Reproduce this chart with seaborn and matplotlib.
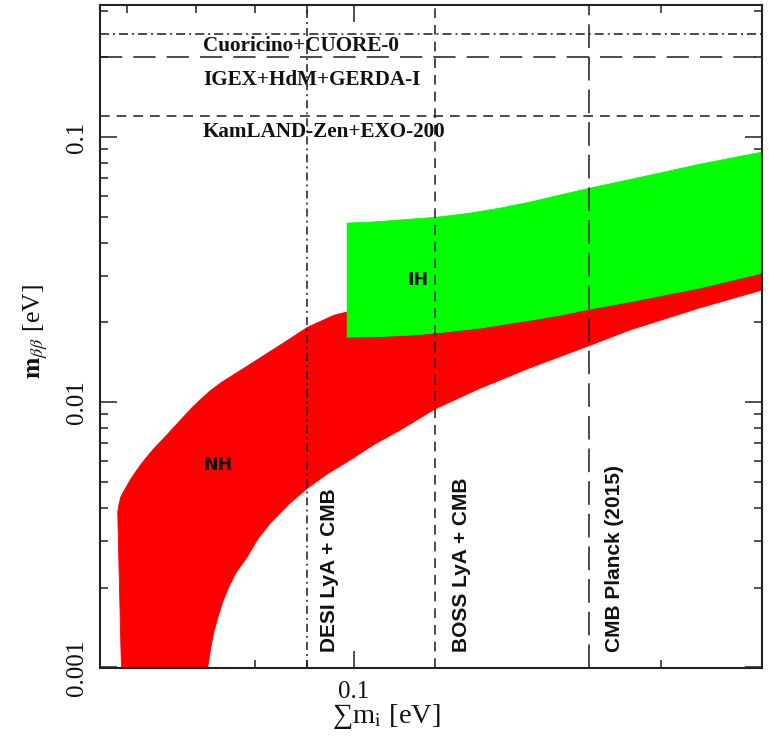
import matplotlib
matplotlib.use("Agg")
import numpy as np
import matplotlib.pyplot as plt
import matplotlib.ticker as mticker
import matplotlib.transforms as mtrans
import seaborn as sns

# ---- data -----------------------------------------------------------------
# Normal hierarchy band (red): left/upper edge, then lower edge
nh_upper_sum = [0.0592, 0.0591, 0.0587, 0.05885, 0.0591, 0.0596, 0.0603, 0.0610, 0.0620,
                0.0635, 0.0653, 0.0675, 0.0695, 0.0722, 0.0742, 0.0791, 0.0846, 0.0901,
                0.0956, 0.0984, 0.105, 0.120, 0.170, 0.251]
nh_upper_mbb = [0.00100, 0.00127, 0.00386, 0.00410, 0.00439, 0.00467, 0.00505, 0.00541,
                0.00590, 0.00661, 0.00740, 0.00850, 0.00960, 0.0110, 0.0119, 0.0139,
                0.0164, 0.0192, 0.0213, 0.0219, 0.0240, 0.0290, 0.0450, 0.0700]
nh_lower_sum = [0.0719, 0.0721, 0.0724, 0.0729, 0.0736, 0.0744, 0.0754, 0.0766, 0.0786,
                0.0805, 0.0827, 0.0864, 0.0901, 0.0941, 0.0984, 0.1048, 0.1110, 0.1200,
                0.1329, 0.1488, 0.1703, 0.186, 0.218, 0.251]
nh_lower_mbb = [0.00100, 0.00107, 0.00118, 0.00136, 0.00155, 0.00177, 0.00201, 0.00227,
                0.00261, 0.00305, 0.00348, 0.00414, 0.00475, 0.00536, 0.00595, 0.00696,
                0.00786, 0.00943, 0.0113, 0.0135, 0.0164, 0.0187, 0.0227, 0.0265]

# Inverted hierarchy band (green)
ih_top_sum = [0.0984, 0.1037, 0.1110, 0.1206, 0.1300, 0.1391, 0.1488, 0.1592, 0.1703,
              0.1951, 0.2184, 0.251]
ih_top_mbb = [0.0474, 0.0478, 0.0487, 0.0499, 0.0517, 0.0540, 0.0569, 0.0605, 0.0642,
              0.0719, 0.0791, 0.0878]
ih_bottom_sum = [0.0984, 0.1060, 0.1135, 0.1200, 0.1329, 0.1488, 0.1592, 0.1703, 0.186,
                 0.2184, 0.251]
ih_bottom_mbb = [0.01762, 0.01769, 0.01793, 0.01824, 0.01905, 0.0204, 0.0213, 0.02247,
                 0.0239, 0.0270, 0.0307]

# Double-beta-decay experimental limits on m_bb
dbd_names = ["Cuoricino+CUORE-0", "IGEX+HdM+GERDA-I", "KamLAND-Zen+EXO-200"]
dbd_limits = [0.245, 0.20, 0.12]

# Cosmological limits on the sum of neutrino masses
cosmo_names = ["DESI LyA + CMB", "BOSS LyA + CMB", "CMB Planck (2015)"]
cosmo_limits = [0.090, 0.120, 0.170]

x_ticks = [0.1]
x_tick_labels = ["0.1"]
y_ticks = [0.001, 0.01, 0.1]
y_tick_labels = ["0.001", "0.01", "0.1"]

x_range = (0.0564, 0.251)
y_range = (0.001, 0.315)

# ---- style ----------------------------------------------------------------
sns.set_style("ticks")
plt.rcParams.update({
    "font.family": ["Liberation Serif", "DejaVu Serif"],
    "mathtext.fontset": "stix",
    "lines.scale_dashes": False,
})

fig = plt.figure(figsize=(7.69, 7.44), dpi=100)
ax = fig.add_axes([100 / 769, (744 - 667.5) / 744, 662 / 769, 662.5 / 744])
ax.set_xscale("log")
ax.set_yscale("log")

# ---- bands ----------------------------------------------------------------
nh_x = nh_upper_sum + nh_lower_sum[::-1]
nh_y = nh_upper_mbb + nh_lower_mbb[::-1]
ax.fill(nh_x, nh_y, color="#ff0000", lw=0, zorder=2)
sns.lineplot(x=nh_upper_sum, y=nh_upper_mbb, sort=False, estimator=None,
             color="#ff0000", lw=0.6, ax=ax, zorder=2)
sns.lineplot(x=nh_lower_sum, y=nh_lower_mbb, sort=False, estimator=None,
             color="#ff0000", lw=0.6, ax=ax, zorder=2)

ih_x = ih_top_sum + ih_bottom_sum[::-1]
ih_y = ih_top_mbb + ih_bottom_mbb[::-1]
ax.fill(ih_x, ih_y, color="#00ff00", lw=0, zorder=3)
sns.lineplot(x=ih_top_sum, y=ih_top_mbb, sort=False, estimator=None,
             color="#00ff00", lw=0.6, ax=ax, zorder=3)
sns.lineplot(x=ih_bottom_sum, y=ih_bottom_mbb, sort=False, estimator=None,
             color="#00ff00", lw=0.6, ax=ax, zorder=3)

# ---- limit lines ----------------------------------------------------------
h_styles = [(0, (6.5, 2.9, 1.4, 2.9)), (0, (16, 8)), (0, (7, 5))]
for val, ls in zip(dbd_limits, h_styles):
    ax.axhline(val, color="#1a1a1a", lw=1.1, ls=ls, zorder=4)

v_styles = [(0, (5.8, 2.9, 1.4, 2.9)), (0, (7, 5)), (0, (17, 6.5))]
for val, ls in zip(cosmo_limits, v_styles):
    ax.axvline(val, color="#1a1a1a", lw=1.1, ls=ls, zorder=4)

# labels of the double-beta-decay limits (below each line)
for name, yfrac in zip(dbd_names, [0.938, 0.887, 0.808]):
    ax.text(0.1556, yfrac, name, transform=ax.transAxes, ha="left", va="center",
            fontsize=15.2, fontweight="bold", family=["Liberation Serif", "DejaVu Serif"],
            color="#111111", zorder=5)

# labels of the cosmological limits (rotated, right of each line)
blend = mtrans.blended_transform_factory(ax.transData, ax.transAxes)
for name, val, dx in zip(cosmo_names, cosmo_limits, [16, 19, 18]):
    ax.annotate(name, xy=(val, 0), xycoords=blend, xytext=(dx, 11),
                textcoords="offset points", rotation=90, ha="center", va="bottom",
                fontsize=15, fontweight="bold",
                family=["Liberation Sans", "DejaVu Sans"], color="#111111", zorder=5)

ax.text(0.0736, 0.0058, "NH", ha="center", va="center", fontsize=12.5,
        fontweight="bold", family=["DejaVu Sans"], color="#111111", zorder=5)
ax.text(0.1156, 0.0289, "IH", ha="center", va="center", fontsize=12.5,
        fontweight="bold", family=["DejaVu Sans"], color="#111111", zorder=5)

# ---- axes -----------------------------------------------------------------
ax.set_xlim(*x_range)
ax.set_ylim(*y_range)

ax.xaxis.set_major_locator(mticker.FixedLocator(x_ticks))
ax.xaxis.set_major_formatter(mticker.FixedFormatter(x_tick_labels))
ax.xaxis.set_minor_locator(mticker.LogLocator(base=10, subs=np.arange(2, 10), numticks=30))
ax.xaxis.set_minor_formatter(mticker.NullFormatter())
ax.yaxis.set_major_locator(mticker.FixedLocator(y_ticks))
ax.yaxis.set_major_formatter(mticker.FixedFormatter(y_tick_labels))
ax.yaxis.set_minor_locator(mticker.LogLocator(base=10, subs=np.arange(2, 10), numticks=30))
ax.yaxis.set_minor_formatter(mticker.NullFormatter())

ax.tick_params(which="both", direction="in", top=True, right=True,
               width=1.1, color="#222222", labelsize=18, labelcolor="#111111")
ax.tick_params(which="major", length=12)
ax.tick_params(which="minor", length=6)
ax.tick_params(axis="x", pad=10)
ax.tick_params(axis="y", pad=9, labelrotation=90)
for lbl in ax.get_yticklabels():
    lbl.set_va("center")

for sp in ax.spines.values():
    sp.set_linewidth(1.5)
    sp.set_color("#222222")
    sp.set_zorder(6)

ax.set_xlabel("\u2211m$_\\mathrm{i}$ [eV]", fontsize=20.5, color="#111111")
ax.xaxis.set_label_coords(0.432, -0.052)
ax.set_ylabel(r"$\mathbf{m}_{\beta\beta}$ [eV]", fontsize=18.5, color="#111111")
ax.yaxis.set_label_coords(-0.076, 0.507)

fig.savefig("out.png", dpi=100, facecolor="white")
